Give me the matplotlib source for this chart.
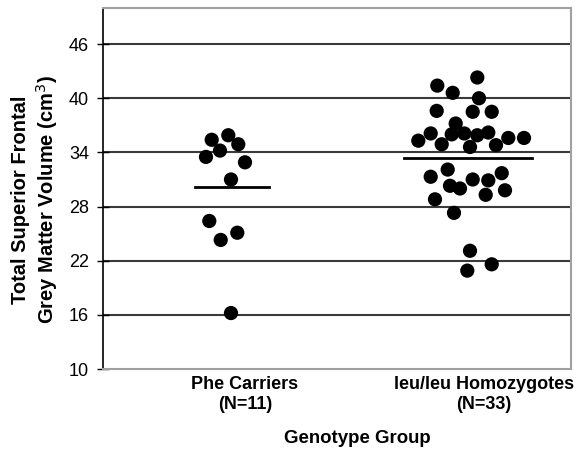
import numpy as np
import matplotlib
matplotlib.use('Agg')
import matplotlib.pyplot as plt

plt.rcParams['font.family'] = ['Liberation Sans', 'DejaVu Sans']

# group labels
groups = ['Phe Carriers\n(N=11)', 'leu/leu Homozygotes\n(N=33)']

# volumes (cm3)
phe_vals = [35.4, 35.9, 34.9, 34.2, 33.5, 32.9, 31.0, 26.4, 25.1, 24.3, 16.2]
leu_vals = [42.3, 41.4, 40.6, 40.0, 38.6, 38.5, 38.5, 37.2, 36.1, 36.0, 36.1,
            35.9, 36.2, 35.3, 34.9, 34.6, 34.8, 35.6, 35.6, 32.1, 31.3, 31.0,
            30.3, 30.0, 30.9, 31.7, 29.8, 29.3, 28.8, 27.3, 23.1, 21.6, 20.9]
# group means (horizontal bars)
means = [30.2, 33.4]

# horizontal spread of the dots (pixels from cluster centre)
phe_jit = [-20.3, -3.7, 6.3, -12, -26, 13, -1, -22.7, 5.3, -11.3, -1]
leu_jit = [9.3, -30.7, -15.3, 11, -31.3, 4.7, 23.7, -12.3, -37.3, -16.3, -3.7,
           9.3, 20.3, -49.7, -26.3, 2, 28, 40.3, 56, -20.3, -37.3, 4.7,
           -18, -8, 20.3, 33.7, 37, 17.7, -33, -14, 2, 23.7, -0.7]

yticks = [10, 16, 22, 28, 34, 40, 46]

px = 239.0  # pixels per x unit
centres = [1 - 13 / px, 2 - 16 / px]
half_w = [37 / px, 64 / px]

fig = plt.figure(figsize=(5.8, 4.54), dpi=100)
ax = fig.add_axes([103 / 580, 85 / 454, 468 / 580, 361 / 454])

# horizontal grid
for yv in yticks[1:]:
    ax.axhline(yv, color='#3a3a3a', lw=1.5, zorder=1)

for c, vals, jit in [(centres[0], phe_vals, phe_jit), (centres[1], leu_vals, leu_jit)]:
    xs = c + np.array(jit) / px
    ax.scatter(xs, vals, s=105, color='black', edgecolors='none', zorder=3)

for c, hw, m in zip(centres, half_w, means):
    ax.plot([c - hw, c + hw], [m, m], color='black', lw=2, zorder=2)

ax.set_xlim(1 - 142 / px, 2 + 87 / px)
ax.set_ylim(10, 50)
ax.set_yticks(yticks)
ax.set_xticks([1, 2])
ax.set_xticklabels(groups, fontsize=13, fontweight='bold')
ax.tick_params(axis='x', length=0, pad=5)
ax.tick_params(axis='y', direction='inout', length=8, width=1, labelsize=13, pad=6)

ax.spines['left'].set_color('black')
ax.spines['left'].set_linewidth(1.2)
for s in ['top', 'right', 'bottom']:
    ax.spines[s].set_color('#a0a0a0')
    ax.spines[s].set_linewidth(1.5)

ax.set_xlabel('Genotype Group', fontsize=13.4, fontweight='bold')
ax.xaxis.set_label_coords(254 / 468, -61 / 361)
ax.set_ylabel('Total Superior Frontal\nGrey Matter Volume (cm$^3$)',
              fontsize=14.5, fontweight='bold')
ax.yaxis.set_label_coords(-43 / 468, 169 / 361)

plt.savefig('out.png', dpi=100)
